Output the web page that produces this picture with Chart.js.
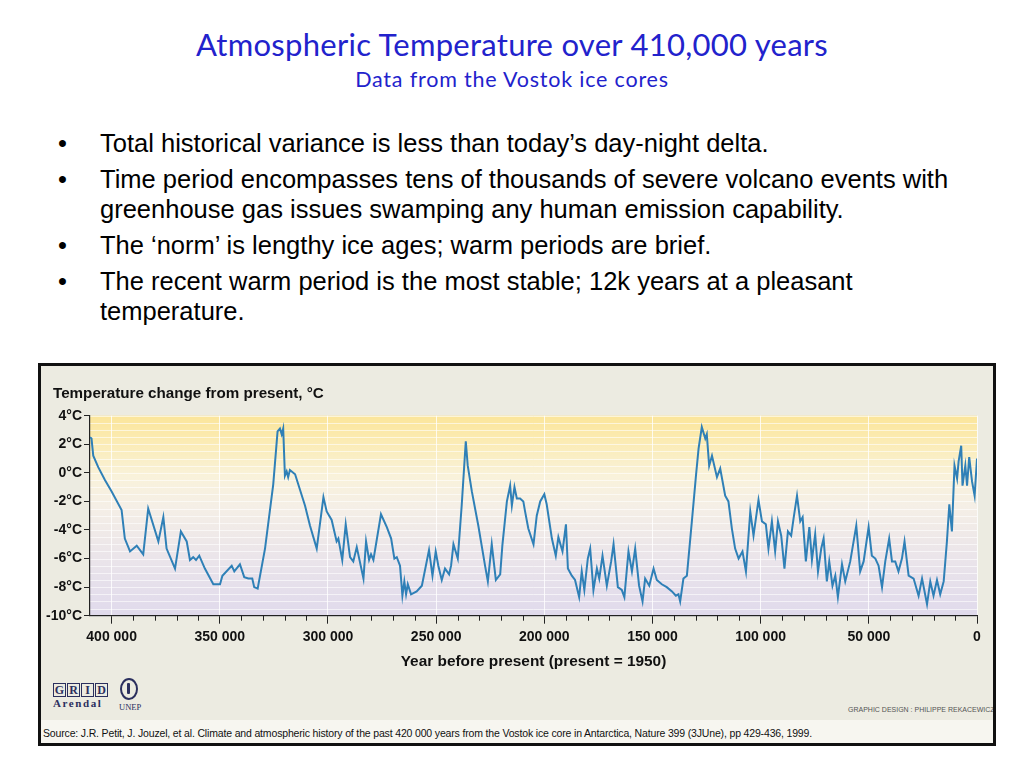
<!DOCTYPE html>
<html><head><meta charset="utf-8">
<script src="https://cdn.jsdelivr.net/npm/chart.js@4.4.1/dist/chart.umd.min.js"></script>
<style>
html,body{margin:0;padding:0;background:#fff;width:1024px;height:768px;overflow:hidden;}
#title{position:absolute;left:0;width:1024px;top:24px;text-align:center;font-family:Lato,'Open Sans',sans-serif;font-size:31px;letter-spacing:0.27px;color:#2222cc;line-height:40px;white-space:nowrap;}
#subtitle{position:absolute;left:0;width:1024px;top:66px;text-align:center;font-family:Lato,'Open Sans',sans-serif;font-size:21.5px;letter-spacing:0.8px;color:#2222cc;line-height:26px;white-space:nowrap;}
#bullets{position:absolute;left:0;top:128px;font-family:'Liberation Sans',Arial,sans-serif;font-size:25.5px;line-height:30px;color:#000;}
.b{position:relative;padding-left:100px;margin-bottom:6px;white-space:nowrap;}
.b::before{content:'\2022';position:absolute;left:58px;}
#frame{position:absolute;left:38px;top:363px;width:958px;height:383px;border:3px solid #111;box-sizing:border-box;background:#ecebe1;overflow:hidden;}
#c{position:absolute;left:0;top:0;}
#ctitle{position:absolute;left:12px;top:18px;font-family:'Liberation Sans',Arial,sans-serif;font-weight:bold;font-size:15.2px;line-height:18px;color:#111;white-space:nowrap;}
#grid{position:absolute;left:12px;top:317px;font-family:'Liberation Serif','DejaVu Serif',serif;font-weight:bold;font-size:12px;color:#2b2f5e;display:flex;gap:1px;}
#grid span{display:inline-block;border:1px solid #2b2f5e;width:11px;height:12px;line-height:12px;text-align:center;}
#arendal{position:absolute;left:12px;top:331px;font-family:'Liberation Serif','DejaVu Serif',serif;font-weight:bold;font-size:11px;letter-spacing:1.6px;color:#2b2f5e;line-height:12px;}
#emb{position:absolute;left:79px;top:312px;width:18px;height:22px;border:2.5px solid #2b2f5e;border-radius:50%;box-sizing:border-box;}
#emb div{position:absolute;left:5px;top:3px;width:3px;height:11px;background:#2b2f5e;border-radius:1px;}
#unep{position:absolute;left:78px;top:337px;font-family:'Liberation Serif','DejaVu Serif',serif;font-size:8.5px;color:#2b2f5e;line-height:9px;}
#design{position:absolute;left:807px;top:340px;font-family:'Liberation Sans',sans-serif;font-size:7px;color:#555;white-space:nowrap;line-height:8px;}
#source{position:absolute;left:0;top:354px;width:100%;height:30px;background:#f7f6f0;}
#source span{position:absolute;left:2px;top:7px;font-family:'Liberation Sans',sans-serif;font-size:10.5px;letter-spacing:-0.16px;color:#111;white-space:nowrap;line-height:13px;}
</style></head>
<body>
<div id="title">Atmospheric Temperature over 410,000 years</div>
<div id="subtitle">Data from the Vostok ice cores</div>
<div id="bullets">
<div class="b">Total historical variance is less than today’s day-night delta.</div>
<div class="b">Time period encompasses tens of thousands of severe volcano events with<br>greenhouse gas issues swamping any human emission capability.</div>
<div class="b">The ‘norm’ is lengthy ice ages; warm periods are brief.</div>
<div class="b">The recent warm period is the most stable; 12k years at a pleasant<br>temperature.</div>
</div>
<div id="frame">
<canvas id="c" width="952" height="310"></canvas>
<div id="ctitle">Temperature change from present, °C</div>
<div id="grid"><span>G</span><span>R</span><span>I</span><span>D</span></div>
<div id="arendal">Arendal</div>
<div id="emb"><div></div></div>
<div id="unep">UNEP</div>
<div id="design">GRAPHIC DESIGN : PHILIPPE REKACEWICZ</div>
<div id="source"><span>Source: J.R. Petit, J. Jouzel, et al. Climate and atmospheric history of the past 420 000 years from the Vostok ice core in Antarctica, Nature 399 (3JUne), pp 429-436, 1999.</span></div>
</div>
<script>
// Years before present (thousands of years)
const yearsKyr = [
410.0,409.3,408.5,406.2,403.1,400.0,395.4,393.9,391.5,388.4,385.4,383.1,378.4,376.1,374.6,370.7,368.0,365.3,363.8,362.3,
361.0,359.5,356.9,353.0,349.9,348.8,344.5,343.3,340.7,338.7,336.8,335.0,334.1,332.5,329.1,325.3,323.3,322.2,321.4,320.7,
319.9,319.1,318.4,317.6,315.2,310.6,308.3,305.2,302.1,300.6,298.3,296.0,295.2,293.4,291.8,289.8,288.3,286.7,283.6,282.4,
281.0,280.1,279.0,275.5,272.8,270.8,269.3,268.2,266.7,265.6,264.7,263.9,263.1,261.6,259.0,256.6,253.3,251.7,250.2,249.0,
247.4,245.9,244.0,243.1,242.0,240.0,238.2,236.3,235.4,233.5,230.5,227.4,226.1,224.3,222.4,220.4,219.4,217.3,215.8,215.0,
213.8,212.7,211.2,209.7,208.9,207.4,205.0,203.5,201.9,200.0,198.9,196.5,194.7,193.5,191.6,190.0,189.1,187.3,185.8,183.9,
182.7,181.5,179.9,178.8,177.3,175.7,174.6,173.1,171.1,169.1,168.0,166.0,164.2,163.0,161.1,159.5,158.0,156.2,154.6,153.4,
151.5,149.5,148.0,145.7,143.4,141.0,139.2,138.0,137.2,135.7,134.1,131.8,129.9,128.7,127.2,125.6,124.9,123.8,122.5,120.2,
118.7,116.4,114.9,113.3,111.8,110.2,108.4,106.8,104.8,103.3,101.0,99.4,97.6,96.4,94.8,93.3,92.0,90.5,89.0,87.4,
85.9,84.8,83.2,81.7,80.6,79.1,77.5,76.3,74.8,73.5,72.0,70.9,69.4,68.3,66.8,65.5,64.3,62.4,60.9,58.6,
55.8,54.0,52.4,50.1,48.6,47.0,45.5,43.9,42.4,40.6,39.3,37.8,36.3,34.7,33.5,31.6,29.3,27.0,25.4,23.1,
21.6,20.1,18.5,17.0,15.4,13.9,12.8,11.6,10.4,9.2,8.5,7.3,6.7,5.4,4.6,3.6,2.3,1.1,0.0
];
// Temperature change from present (°C)
const tempC = [
2.5,2.4,1.2,0.4,-0.5,-1.3,-2.6,-4.6,-5.5,-5.1,-5.7,-2.5,-4.8,-3.1,-5.3,-6.7,-4.1,-4.8,-6.1,-5.9,
-6.1,-5.8,-6.7,-7.8,-7.8,-7.2,-6.5,-6.9,-6.4,-7.3,-7.4,-7.4,-8.0,-8.1,-5.3,-0.8,2.9,3.1,2.7,3.1,
-0.2,0.1,-0.3,0.2,-0.1,-2.3,-3.7,-5.3,-1.7,-2.7,-3.3,-4.8,-4.6,-6.1,-3.6,-5.9,-6.2,-5.2,-7.4,-4.8,
-6.1,-5.7,-6.1,-2.9,-3.8,-4.6,-6.0,-5.9,-6.5,-8.6,-7.6,-8.5,-7.8,-8.5,-8.3,-7.9,-5.4,-7.2,-5.5,-6.5,
-7.5,-6.7,-7.1,-6.5,-5.0,-6.0,-2.3,2.2,0.5,-1.3,-3.7,-6.5,-7.6,-5.0,-7.5,-7.1,-5.1,-2.0,-0.9,-2.3,
-1.0,-1.8,-1.8,-2.0,-2.7,-3.9,-5.0,-3.0,-2.0,-1.5,-2.2,-4.6,-5.8,-4.5,-5.5,-3.6,-6.7,-7.2,-7.5,-8.7,
-6.9,-8.2,-6.0,-5.3,-8.2,-6.7,-7.4,-5.8,-7.9,-6.2,-5.0,-8.0,-8.2,-8.7,-5.5,-6.9,-5.3,-7.9,-9.0,-7.4,
-7.9,-6.7,-7.5,-7.8,-8.0,-8.3,-8.6,-8.5,-9.0,-7.4,-7.2,-3.4,-0.2,1.7,3.2,2.4,2.7,0.5,1.2,-0.3,
0.3,-1.6,-2.0,-3.9,-5.3,-6.0,-5.5,-6.9,-2.7,-4.4,-1.9,-3.4,-3.6,-5.3,-3.4,-5.5,-3.4,-4.4,-6.7,-4.1,
-4.4,-3.2,-1.6,-3.4,-3.1,-6.2,-3.8,-6.1,-4.3,-6.9,-5.3,-4.6,-7.6,-6.2,-7.9,-7.2,-8.7,-6.4,-7.6,-6.2,
-3.7,-6.9,-6.2,-3.8,-5.8,-6.0,-6.5,-8.0,-6.2,-4.6,-6.2,-6.2,-6.9,-6.0,-4.8,-7.2,-7.4,-8.6,-7.4,-9.2,
-7.6,-8.6,-7.5,-8.5,-7.6,-4.8,-2.2,-4.1,0.5,-0.4,0.8,1.9,-0.9,0.5,-0.9,1.1,-0.6,-1.6,1.0
];
const xTickValues = [400,350,300,250,200,150,100,50,0];
const xTickLabels = ['400 000','350 000','300 000','250 000','200 000','150 000','100 000','50 000','0'];
const yTickValues = [-10,-8,-6,-4,-2,0,2,4];
const yTickLabels = ['-10°C','-8°C','-6°C','-4°C','-2°C','0°C','2°C','4°C'];

const bgPlugin = {
  id:'bg',
  beforeDraw(chart){
    const {ctx, chartArea:a, scales:{y}} = chart;
    const g = ctx.createLinearGradient(0,a.top,0,a.bottom);
    g.addColorStop(0,'#fbe59a');
    g.addColorStop(0.12,'#fbebb2');
    g.addColorStop(0.3,'#f9f2da');
    g.addColorStop(0.45,'#f5efe6');
    g.addColorStop(0.7,'#ebe5ea');
    g.addColorStop(1,'#e0daec');
    ctx.save();
    ctx.fillStyle = g;
    ctx.fillRect(a.left,a.top,a.right-a.left,a.bottom-a.top);
    ctx.strokeStyle = 'rgba(255,255,255,0.6)';
    ctx.lineWidth = 1;
    for(let v=-10; v<=4; v+=0.5){
      const py = Math.round(y.getPixelForValue(v))+0.5;
      ctx.beginPath(); ctx.moveTo(a.left,py); ctx.lineTo(a.right,py); ctx.stroke();
    }
    ctx.restore();
  },
  afterDraw(chart){
    const {ctx, chartArea:a, scales:{x}} = chart;
    ctx.save();
    ctx.strokeStyle = '#222';
    ctx.lineWidth = 1;
    for(let v=10; v<=400; v+=10){
      if(v%50===0) continue;
      const px = Math.round(x.getPixelForValue(v))+0.5;
      ctx.beginPath(); ctx.moveTo(px,a.bottom); ctx.lineTo(px,a.bottom+5); ctx.stroke();
    }
    ctx.restore();
  }
};

const labelFont = {family:"'Liberation Sans', Arial, sans-serif", size:14, weight:'bold'};
new Chart(document.getElementById('c'), {
  type:'line',
  data:{datasets:[{
    data: yearsKyr.map((v,i)=>({x:v, y:tempC[i]})),
    borderColor:'#2f80b7', borderWidth:2, pointRadius:0, tension:0, fill:false
  }]},
  options:{
    responsive:false, animation:false,
    layout:{padding:{top:49.7,right:16,left:0,bottom:0}},
    plugins:{legend:{display:false},tooltip:{enabled:false}},
    scales:{
      x:{type:'linear',min:0,max:410,reverse:true,
        afterBuildTicks:s=>{s.ticks = xTickValues.map(v=>({value:v}));},
        afterFit:s=>{s.height = 60.3;},
        ticks:{callback:v=>xTickLabels[xTickValues.indexOf(v)], font:labelFont, color:'#111', padding:5, maxRotation:0, autoSkip:false},
        grid:{color:'rgba(255,255,255,0.8)', tickColor:'#222', tickLength:8, lineWidth:1},
        border:{color:'#222', width:1.2},
        title:{display:true, text:'Year before present (present = 1950)', font:{family:"'Liberation Sans', Arial, sans-serif", size:15.4, weight:'bold'}, color:'#111', padding:{top:0,bottom:5}}
      },
      y:{type:'linear',min:-10,max:4,
        afterBuildTicks:s=>{s.ticks = yTickValues.map(v=>({value:v}));},
        afterFit:s=>{s.width = 49;},
        ticks:{callback:v=>yTickLabels[yTickValues.indexOf(v)], font:labelFont, color:'#111', padding:2, autoSkip:false},
        grid:{drawOnChartArea:false, tickColor:'#222', tickLength:6},
        border:{color:'#222', width:1.2}
      }
    }
  },
  plugins:[bgPlugin]
});
</script>
</body></html>
